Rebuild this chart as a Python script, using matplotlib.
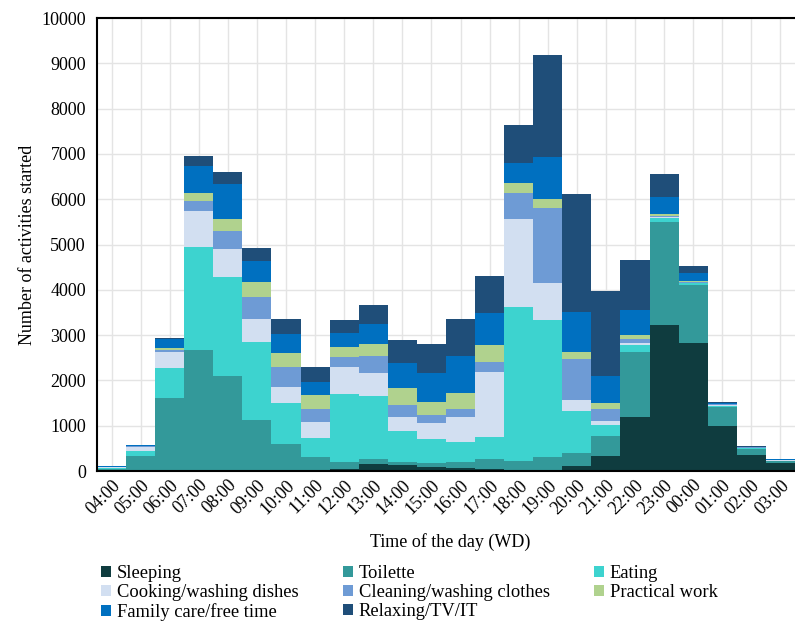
import matplotlib.pyplot as plt
import numpy as np

plt.rcParams['font.family'] = ['Liberation Serif', 'DejaVu Serif']

hours = ['04:00', '05:00', '06:00', '07:00', '08:00', '09:00', '10:00', '11:00',
         '12:00', '13:00', '14:00', '15:00', '16:00', '17:00', '18:00', '19:00',
         '20:00', '21:00', '22:00', '23:00', '00:00', '01:00', '02:00', '03:00']

sleeping = [10, 10, 20, 20, 20, 20, 20, 20, 40, 155, 130, 80, 60, 50, 30, 30,
            110, 340, 1200, 3225, 2820, 995, 355, 170]
toilette = [45, 330, 1585, 2650, 2085, 1105, 570, 280, 165, 110, 75, 105, 145, 210, 200, 270,
            280, 435, 1435, 2280, 1285, 425, 130, 50]
eating = [20, 110, 675, 2270, 2170, 1730, 905, 435, 1495, 1390, 685, 520, 440, 485, 3380, 3035,
          940, 240, 145, 70, 35, 20, 15, 10]
cooking = [10, 85, 355, 805, 620, 490, 365, 355, 600, 515, 310, 360, 555, 1445, 1955, 810,
           235, 90, 50, 40, 20, 15, 10, 5]
cleaning = [5, 10, 35, 215, 405, 505, 430, 285, 210, 375, 255, 170, 160, 210, 565, 1655,
            900, 260, 85, 25, 15, 15, 10, 5]
practical = [0, 5, 40, 170, 255, 315, 315, 305, 220, 260, 370, 280, 370, 380, 220, 205,
             170, 140, 85, 35, 15, 10, 5, 5]
family = [10, 15, 200, 610, 775, 475, 420, 290, 310, 435, 550, 655, 810, 700, 455, 935,
          880, 585, 555, 380, 175, 30, 15, 20]
relaxing = [5, 10, 30, 215, 265, 275, 320, 330, 295, 425, 515, 645, 810, 825, 835, 2250,
            2595, 1880, 1105, 500, 165, 20, 10, 10]

series = [
    ('Sleeping', sleeping, '#0f3c3f'),
    ('Toilette', toilette, '#33999a'),
    ('Eating', eating, '#3dd3cf'),
    ('Cooking/washing dishes', cooking, '#d2dff1'),
    ('Cleaning/washing clothes', cleaning, '#6e9bd5'),
    ('Practical work', practical, '#b0d28e'),
    ('Family care/free time', family, '#0070c0'),
    ('Relaxing/TV/IT', relaxing, '#1f4e79'),
]

fig = plt.figure(figsize=(7.95, 6.21), dpi=100)
ax = fig.add_axes([0.122, 0.2415, 0.878, 0.7295])

x = np.arange(len(hours))
bottom = np.zeros(len(hours))
handles = []
for name, vals, col in series:
    b = ax.bar(x, vals, width=1.0, bottom=bottom, color=col, label=name, zorder=2)
    handles.append(b)
    bottom += np.array(vals)

ax.set_xlim(-0.5, 23.5)
ax.set_ylim(0, 10000)
ax.set_yticks(range(0, 10001, 1000))
ax.set_xticks(x)
ax.set_xticklabels(hours, rotation=45, ha='right', rotation_mode='anchor', fontsize=13)
ax.tick_params(axis='y', labelsize=13, length=0, pad=8)
ax.tick_params(axis='x', length=0, pad=4)
ax.grid(True, color='#e4e4e4', linewidth=1, zorder=0)
ax.set_axisbelow(True)
for s in ['left', 'bottom', 'top']:
    ax.spines[s].set_color('black')
    ax.spines[s].set_linewidth(1.5)
ax.spines['right'].set_visible(False)

ax.set_ylabel('Number of activities started', fontsize=13)
fig.text(450 / 795, 1 - 542 / 621, 'Time of the day (WD)', ha='center', va='center', fontsize=13)

# legend is read row by row in the reference, matplotlib fills columns first
order = [0, 3, 6, 1, 4, 7, 2, 5]
fig.legend([handles[i] for i in order], [series[i][0] for i in order],
           loc='upper left', bbox_to_anchor=(92 / 795, 1 - 556 / 621), ncol=3,
           frameon=False, fontsize=13.3, handlelength=0.55, handleheight=0.55,
           handletextpad=0.3, columnspacing=2.4, labelspacing=0.1, borderpad=0)

fig.savefig('out.png', dpi=100)
